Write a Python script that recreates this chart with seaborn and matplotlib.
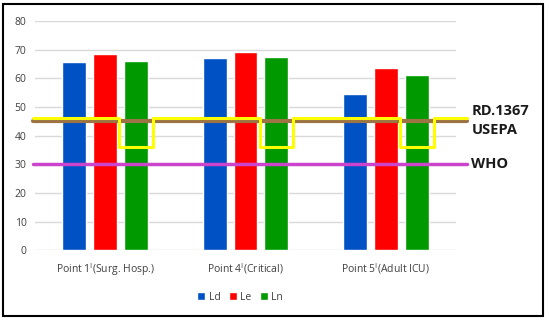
import matplotlib
matplotlib.use("Agg")
import matplotlib.pyplot as plt
import seaborn as sns
import pandas as pd
from matplotlib.patches import Rectangle

categories = ["Point 1$^{\\mathregular{I}}$(Surg. Hosp.)",
              "Point 4$^{\\mathregular{I}}$(Critical)",
              "Point 5$^{\\mathregular{I}}$(Adult ICU)"]
series = ["Ld", "Le", "Ln"]
Ld = [65.8, 67.0, 54.4]
Le = [68.5, 69.2, 63.5]
Ln = [66.1, 67.3, 61.2]
limit_rd_usepa = 45
limit_yellow_high = 46
limit_yellow_low = 36
limit_who = 30
yticks = [0, 10, 20, 30, 40, 50, 60, 70, 80]

rows = []
for s, vals in zip(series, [Ld, Le, Ln]):
    for c, v in zip(categories, vals):
        rows.append({"cat": c, "series": s, "value": v})
df = pd.DataFrame(rows)

sns.set_theme(style="white")
plt.rcParams["font.family"] = ["Open Sans", "DejaVu Sans"]
plt.rcParams["mathtext.fontset"] = "custom"
plt.rcParams["mathtext.rm"] = "Open Sans"

fig = plt.figure(figsize=(5.5, 3.24), dpi=100)
ax = fig.add_axes([35/550, 1-250.3/324, (456-35)/550, (250.3-21)/324])

palette = {"Ld": "#0052C4", "Le": "#FF0000", "Ln": "#009A00"}
sns.barplot(data=df, x="cat", y="value", hue="series", palette=palette,
            width=0.66, gap=0.23, saturation=1, ax=ax, legend=True)

ax.set_ylim(0, 80)
ax.set_xlim(-0.5, 2.5)
ax.set_yticks(yticks)
ax.yaxis.grid(True, color="#D9D9D9", linewidth=1)
ax.set_axisbelow(True)
for sp in ax.spines.values():
    sp.set_visible(False)
ax.set_xlabel("")
ax.set_ylabel("")
ax.tick_params(axis="both", length=0, labelsize=7.5, labelcolor="#404040", pad=6)
ax.tick_params(axis="x", pad=8)

# limit lines
x0, x1 = -0.515, 2.58
ax.plot([x0, x1], [limit_rd_usepa]*2, color="#9C7444", lw=3, clip_on=False, zorder=4)
ax.plot([x0, x1], [limit_who]*2, color="#CC44CC", lw=2.5, clip_on=False, zorder=4)

# yellow stepped line around Ln bars
ln_container = ax.containers[2]
xs = [x0]
ys = [limit_yellow_high]
pad = 0.035
for p in ln_container.patches:
    a = p.get_x() - pad
    b = p.get_x() + p.get_width() + pad
    xs += [a, a, b, b]
    ys += [limit_yellow_high, limit_yellow_low, limit_yellow_low, limit_yellow_high]
xs.append(x1)
ys.append(limit_yellow_high)
ax.plot(xs, ys, color="#FFFF00", lw=2.2, clip_on=False, zorder=5)

# labels
for txt, yv in [("RD.1367", 48.5), ("USEPA", 42.0), ("WHO", 30.0)]:
    ax.text(2.61, yv, txt, fontsize=10.5, fontweight="bold", color="#1a1a1a",
            family=["Open Sans", "DejaVu Sans"], va="center", ha="left", clip_on=False)

leg = ax.legend(loc="center", bbox_to_anchor=(240/550, 1-297/324),
                bbox_transform=fig.transFigure, ncol=3, frameon=False,
                fontsize=7.5, handlelength=0.8, handleheight=0.8,
                handletextpad=0.3, columnspacing=0.8, labelcolor="#404040")

fig.patches.append(Rectangle((3/550, 1-316/324), 540/550, 312/324,
                             transform=fig.transFigure, fill=False,
                             edgecolor="#000000", linewidth=1.5))

fig.savefig("out.png", dpi=100)
